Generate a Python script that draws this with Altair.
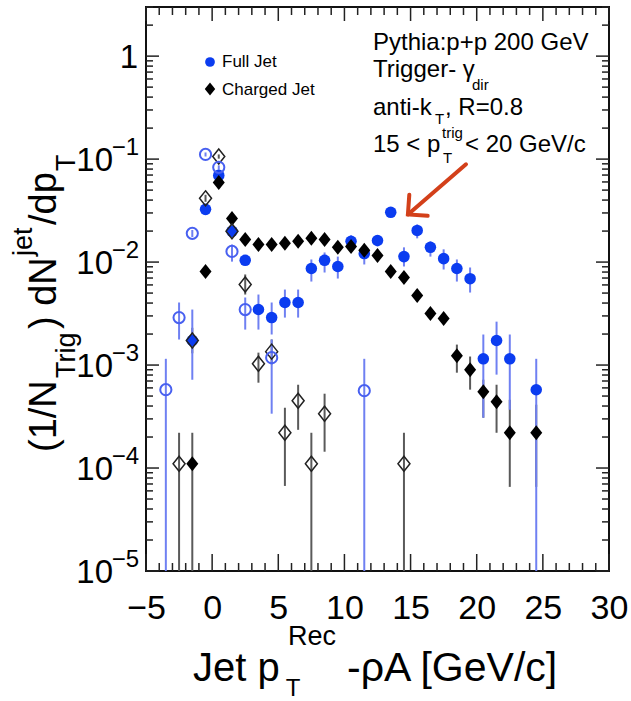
import altair as alt
import pandas as pd

# ---------------- data ----------------
# Full Jet, filled blue circles
full_x = [-1.5, -0.5, 0.5, 1.5, 2.5, 3.5, 4.5, 5.5, 6.5, 7.5, 8.5, 9.5, 10.5, 11.5, 12.5,
          13.5, 14.5, 15.5, 16.5, 17.5, 18.5, 19.5, 20.5, 21.5, 22.5, 24.5]
full_y = [1.73e-3, 0.0325, 0.0695, 0.0199, 0.0104, 3.46e-3, 2.89e-3, 4.05e-3, 4.05e-3, 8.67e-3,
          0.0104, 9.06e-3, 0.0159, 0.0121, 0.0162, 0.0304, 0.0113, 0.0203, 0.0139, 0.0108,
          8.67e-3, 6.9e-3, 1.15e-3, 1.73e-3, 1.15e-3, 5.76e-4]
full_hi = [3.46e-3, 0.034, 0.072, 0.0209, 0.0113, 4.84e-3, 4.05e-3, 5.41e-3, 5.41e-3, 0.0106,
           0.0124, 0.0113, 0.0182, 0.0139, 0.0182, 0.0332, 0.0139, 0.0232, 0.0159, 0.0133,
           0.0106, 8.86e-3, 1.98e-3, 2.64e-3, 1.98e-3, 1.15e-3]
full_lo = [7.2e-4, 0.031, 0.067, 0.0189, 9.5e-3, 2.21e-3, 1.98e-3, 2.89e-3, 2.89e-3, 6.47e-3,
           7.92e-3, 6.92e-3, 0.0139, 9.48e-3, 0.0142, 0.0278, 9.06e-3, 0.0170, 0.0113, 8.47e-3,
           6.47e-3, 5.06e-3, 3.08e-4, 8.07e-4, 3.68e-4, 1e-5]

# open blue circles
fo_x = [-3.5, -2.5, -1.5, -0.5, 0.5, 1.5, 2.5, 4.5, 11.5]
fo_y = [5.77e-4, 2.89e-3, 0.019, 0.111, 0.0832, 0.0127, 3.46e-3, 1.18e-3, 5.64e-4]
fo_hi = [1.15e-3, 4.05e-3, 0.0205, 0.116, 0.087, 0.0148, 4.53e-3, 1.77e-3, 1.15e-3]
fo_lo = [1e-5, 1.77e-3, 0.0175, 0.106, 0.079, 0.0101, 2.21e-3, 3.37e-4, 1e-5]

# Charged Jet, filled black diamonds
ch_x = [-1.5, -0.5, 0.5, 1.5, 2.5, 3.5, 4.5, 5.5, 6.5, 7.5, 8.5, 9.5, 10.5, 11.5, 12.5,
        13.5, 14.5, 15.5, 16.5, 17.5, 18.5, 19.5, 20.5, 21.5, 22.5, 24.5]
ch_y = [1.1e-4, 8.1e-3, 0.0594, 0.0265, 0.0166, 0.0148, 0.0148, 0.0152, 0.0159, 0.0170,
        0.0166, 0.0139, 0.0142, 0.0130, 0.0116, 8.1e-3, 7.08e-3, 4.73e-3, 3.16e-3, 2.83e-3,
        1.23e-3, 9.0e-4, 5.5e-4, 4.4e-4, 2.2e-4, 2.2e-4]
ch_hi = [2.2e-4, 8.6e-3, 0.062, 0.028, 0.0176, 0.0157, 0.0157, 0.0161, 0.0168, 0.0180,
         0.0176, 0.0147, 0.0150, 0.0138, 0.0123, 8.7e-3, 7.7e-3, 5.2e-3, 3.5e-3, 3.15e-3,
         1.58e-3, 1.21e-3, 7.21e-4, 6.44e-4, 4.6e-4, 4.12e-4]
ch_lo = [1e-5, 7.6e-3, 0.057, 0.025, 0.0156, 0.0139, 0.0139, 0.0143, 0.0150, 0.0160,
         0.0156, 0.0131, 0.0134, 0.0122, 0.0109, 7.5e-3, 6.5e-3, 4.3e-3, 2.85e-3, 2.5e-3,
         8.43e-4, 5.77e-4, 3.08e-4, 2.2e-4, 6.56e-5, 6.56e-5]

# open black diamonds
co_x = [-2.5, -1.5, -0.5, 0.5, 1.5, 2.5, 3.5, 4.5, 5.5, 6.5, 7.5, 8.5, 14.5]
co_y = [1.1e-4, 1.73e-3, 0.0416, 0.106, 0.0199, 6.05e-3, 1.03e-3, 1.35e-3, 2.2e-4, 4.5e-4,
        1.1e-4, 3.37e-4, 1.1e-4]
co_hi = [2.2e-4, 2.3e-3, 0.045, 0.111, 0.0215, 7.58e-3, 1.32e-3, 1.77e-3, 3.85e-4, 6.44e-4,
         2.2e-4, 5.27e-4, 2.2e-4]
co_lo = [1e-5, 1.3e-3, 0.0385, 0.101, 0.0183, 4.84e-3, 6.74e-4, 1.01e-3, 6.7e-5, 2.35e-4,
         1e-5, 1.44e-4, 1e-5]

# axes
x_domain = [-5, 30]
y_domain = [1e-5, 3]
x_label_values = [-5, 0, 5, 10, 15, 20, 25, 30]
x_minor_values = [v for v in range(-5, 31) if v % 5 != 0]
y_major_values = [1e-5, 1e-4, 1e-3, 1e-2, 1e-1, 1.0]
y_minor_values = [m * d for d in [1e-5, 1e-4, 1e-3, 1e-2, 1e-1] for m in range(2, 10)] + [2.0, 3.0]
y_label_base = ["10", "10", "10", "10", "10", "1"]
y_label_exp = ["\u22125", "\u22124", "\u22123", "\u22122", "\u22121", ""]

legend_labels = ["Full Jet", "Charged Jet"]
info_lines = ["Pythia:p+p 200 GeV", "Trigger- \u03b3", "dir", "anti-k", "T", ", R=0.8",
              "15 < p", "trig", "T", "< 20 GeV/c"]
x_title_parts = ["Jet p", "T", "Rec", "-\u03c1A [GeV/c]"]
y_title_parts = ["(1/N", "Trig", ") dN", "jet", "/dp", "T"]

# arrow annotation (data coordinates): tail -> tip
arrow_tail = (19.19, 0.089)
arrow_tip = (14.8, 0.029)

# ---------------- chart ----------------
FONT = "Liberation Sans"
W, H = 463, 564
BLUE = "#0b3cf0"
BLUE_OPEN = "#4860f0"
BLUE_ERR = "#6f80f2"
GREY_ERR = "#5a5a5a"
RED = "#d3401a"
DIAMOND = "M0,-1L0.8,0L0,1L-0.8,0Z"
CHEVRON = "M-0.7,0.7L0,0L0.7,0.7"

xs = alt.Scale(domain=x_domain, nice=False, zero=False)
ys = alt.Scale(type="log", domain=y_domain, nice=False)
xaxis = alt.Axis(values=x_label_values, ticks=False, domain=False, grid=False,
                 labelFontSize=34, labelFont=FONT, labelColor="black", labelPadding=20,
                 labelFlush=False, labelOverlap=False, title=None)


def X(f):
    return alt.X(f, type="quantitative", scale=xs, axis=xaxis)


def Y(f):
    return alt.Y(f, type="quantitative", scale=ys, axis=None)


def frame(x, y, hi, lo):
    return pd.DataFrame({"x": x, "y": y, "hi": hi, "lo": lo})


full_df = frame(full_x, full_y, full_hi, full_lo)
fo_df = frame(fo_x, fo_y, fo_hi, fo_lo)
ch_df = frame(ch_x, ch_y, ch_hi, ch_lo)
co_df = frame(co_x, co_y, co_hi, co_lo)


def errbars(df, color):
    return alt.Chart(df).mark_rule(color=color, strokeWidth=2, clip=True).encode(
        x=X("x"), y=Y("lo"), y2="hi")


layers = [
    errbars(co_df, GREY_ERR),
    errbars(fo_df, BLUE_ERR),
    errbars(ch_df, GREY_ERR),
    errbars(full_df, BLUE_ERR),
    alt.Chart(full_df).mark_point(shape="circle", size=133, filled=True, color=BLUE, opacity=1).encode(
        x=X("x"), y=Y("y")),
    alt.Chart(ch_df).mark_point(shape=DIAMOND, size=225, filled=True, color="black", opacity=1).encode(
        x=X("x"), y=Y("y")),
    alt.Chart(co_df).mark_point(shape=DIAMOND, size=225, filled=False, stroke="#222222",
                                strokeWidth=1.5, opacity=1).encode(x=X("x"), y=Y("y")),
    alt.Chart(fo_df).mark_point(shape="circle", size=125, filled=False, stroke=BLUE_OPEN,
                                strokeWidth=2, opacity=1).encode(x=X("x"), y=Y("y")),
]

# ticks (inside the frame, on all four sides)
xmaj = pd.DataFrame({"t": x_label_values})
xmin = pd.DataFrame({"t": x_minor_values})
ymaj = pd.DataFrame({"t": y_major_values})
ymin = pd.DataFrame({"t": y_minor_values})
tk = dict(color="#222222", strokeWidth=1.5)
layers += [
    alt.Chart(xmaj).mark_rule(**tk).encode(x=X("t"), y=alt.value(H), y2=alt.value(H - 17)),
    alt.Chart(xmin).mark_rule(**tk).encode(x=X("t"), y=alt.value(H), y2=alt.value(H - 8)),
    alt.Chart(xmaj).mark_rule(**tk).encode(x=X("t"), y=alt.value(0), y2=alt.value(14)),
    alt.Chart(xmin).mark_rule(**tk).encode(x=X("t"), y=alt.value(0), y2=alt.value(8)),
    alt.Chart(ymaj).mark_rule(**tk).encode(y=Y("t"), x=alt.value(0), x2=alt.value(13)),
    alt.Chart(ymin).mark_rule(**tk).encode(y=Y("t"), x=alt.value(0), x2=alt.value(7)),
    alt.Chart(ymaj).mark_rule(**tk).encode(y=Y("t"), x=alt.value(W), x2=alt.value(W - 13)),
    alt.Chart(ymin).mark_rule(**tk).encode(y=Y("t"), x=alt.value(W), x2=alt.value(W - 7)),
]

# y tick labels with superscript exponents
ylab = pd.DataFrame({"v": y_major_values, "base": y_label_base, "exp": y_label_exp})
layers += [
    alt.Chart(ylab).transform_filter("datum.v < 0.5").mark_text(
        align="right", baseline="alphabetic", fontSize=33, font=FONT, color="black", dy=12).encode(
        x=alt.value(-33), y=Y("v"), text="base:N"),
    alt.Chart(ylab).transform_filter("datum.v < 0.5").mark_text(
        align="right", baseline="alphabetic", fontSize=24, font=FONT, color="black", dy=-4).encode(
        x=alt.value(-7), y=Y("v"), text="exp:N"),
    alt.Chart(ylab).transform_filter("datum.v > 0.5").mark_text(
        align="right", baseline="alphabetic", fontSize=33, font=FONT, color="black", dy=12).encode(
        x=alt.value(-8), y=Y("v"), text="base:N"),
]


def txt(s, x, y, size, angle=0, align="left", color="black"):
    kw = dict(align=align, baseline="alphabetic", fontSize=size, font=FONT, color=color)
    if angle:
        kw["angle"] = angle
    return alt.Chart(pd.DataFrame({"s": [s]})).mark_text(**kw).encode(
        x=alt.value(x), y=alt.value(y), text="s:N")


# x axis title
layers += [
    txt(x_title_parts[0], 47, 674, 40),
    txt(x_title_parts[1], 147, 689, 24, align="center"),
    txt(x_title_parts[2], 142, 638, 27),
    txt(x_title_parts[3], 201, 674, 41),
]

# y axis title (rotated, centred on the axis)
layers += [
    txt(y_title_parts[0], -90, 445, 38, angle=270),
    txt(y_title_parts[1], -71, 371, 27, angle=270),
    txt(y_title_parts[2], -90, 322, 38, angle=270),
    txt(y_title_parts[3], -114, 249, 27, angle=270),
    txt(y_title_parts[4], -90, 218, 38, angle=270),
    txt(y_title_parts[5], -71, 164, 27, angle=270),
]

# info text block
layers += [
    txt(info_lines[0], 227, 43, 24),
    txt(info_lines[1], 227, 70, 24),
    txt(info_lines[2], 326, 83, 15),
    txt(info_lines[3], 227, 108, 24),
    txt(info_lines[4], 289, 117, 15),
    txt(info_lines[5], 299, 108, 24),
    txt(info_lines[6], 227, 145, 24),
    txt(info_lines[7], 296, 131, 15),
    txt(info_lines[8], 297, 156, 15),
    txt(info_lines[9], 319, 145, 24),
]

# legend
leg = pd.DataFrame({"s": legend_labels})
layers += [
    alt.Chart(leg).transform_filter("datum.s == 'Full Jet'").mark_point(
        shape="circle", size=95, filled=True, color=BLUE, opacity=1).encode(
        x=alt.value(64), y=alt.value(55)),
    alt.Chart(leg).transform_filter("datum.s == 'Charged Jet'").mark_point(
        shape=DIAMOND, size=170, filled=True, color="black", opacity=1).encode(
        x=alt.value(64), y=alt.value(82)),
    alt.Chart(leg).transform_filter("datum.s == 'Full Jet'").mark_text(
        align="left", baseline="alphabetic", fontSize=17, font=FONT, color="black").encode(
        x=alt.value(76), y=alt.value(60), text="s:N"),
    alt.Chart(leg).transform_filter("datum.s == 'Charged Jet'").mark_text(
        align="left", baseline="alphabetic", fontSize=17, font=FONT, color="black").encode(
        x=alt.value(76), y=alt.value(88), text="s:N"),
]

# arrow
arr = pd.DataFrame({"ax": [arrow_tail[0]], "ay": [arrow_tail[1]],
                    "bx": [arrow_tip[0]], "by": [arrow_tip[1]]})
layers += [
    alt.Chart(arr).mark_rule(color=RED, strokeWidth=4, strokeCap="round").encode(
        x=X("ax"), y=Y("ay"), x2="bx", y2="by"),
    alt.Chart(arr).mark_point(shape=CHEVRON, size=1600, filled=False, stroke=RED,
                              strokeWidth=4, angle=229, opacity=1, strokeCap="round",
                              strokeJoin="miter").encode(x=X("bx"), y=Y("by")),
]

chart = alt.layer(*layers).properties(
    width=W, height=H,
    padding={"left": 146, "top": 7, "right": 22, "bottom": 130},
    autosize=alt.AutoSizeParams(type="none"),
    background="white",
).configure_view(stroke="#111111", strokeWidth=2)

chart.save("out.html", embed_options={"renderer": "svg", "actions": False})
